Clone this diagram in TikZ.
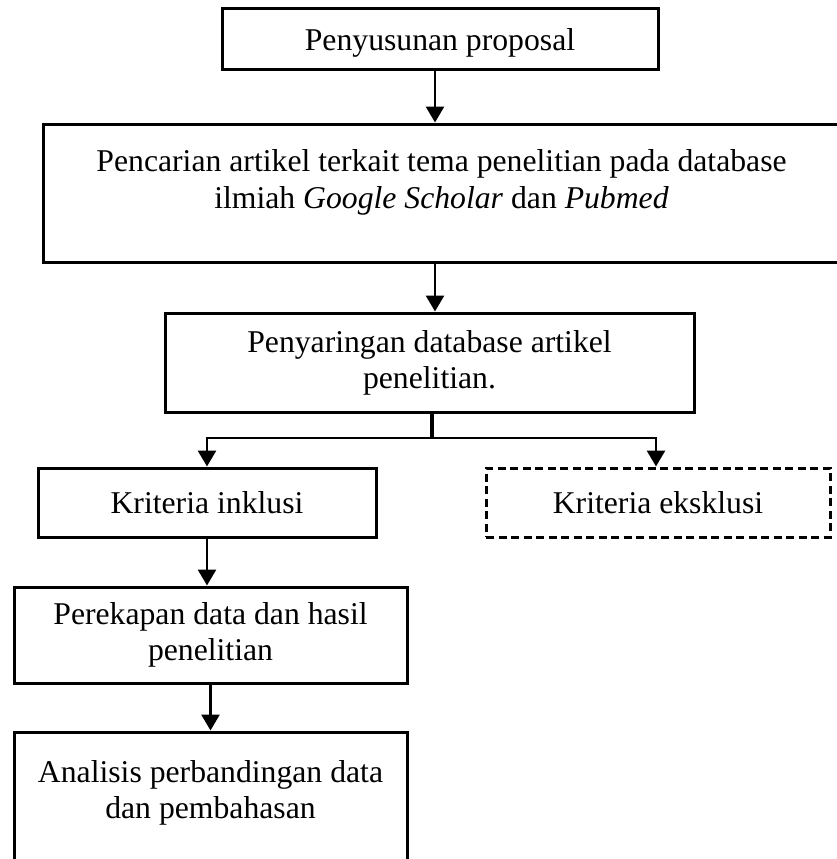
\documentclass[tikz,border=0pt]{standalone}
\usepackage{fontspec}
\setmainfont{Liberation Serif}
\usetikzlibrary{arrows.meta,positioning}
\tikzset{
  kotak/.style={draw, line width=3pt, rectangle, align=center, inner sep=0pt,
    font=\fontsize{31.7}{36}\selectfont},
  putus/.style={kotak, dash pattern=on 8pt off 4.5pt},
  panah/.style={line width=2.8pt, -{Triangle[length=16pt,width=18pt]}}
}
\begin{document}
\begin{tikzpicture}[x=1pt,y=-1pt]
  \useasboundingbox (0,0) rectangle (836,859);
  % kotak-kotak alur penelitian
  \node[kotak, minimum width=436pt, minimum height=61pt] (proposal) at (440,39.5) {\rule{0pt}{28pt}Penyusunan proposal};
  \node[kotak, minimum width=797pt, minimum height=138pt] (pencarian) at (441.5,193)
    {Pencarian artikel terkait tema penelitian pada database\\ ilmiah \textit{Google Scholar} dan \textit{Pubmed}\\[-8pt] ~};
  \node[kotak, minimum width=529pt, minimum height=99pt] (penyaringan) at (429.5,362.5)
    {Penyaringan database artikel\\ penelitian.};
  \node[kotak, minimum width=338pt, minimum height=69pt] (inklusi) at (207,502.5) {Kriteria inklusi};
  \node[putus, minimum width=344pt, minimum height=69pt] (eksklusi) at (658,502.5) {Kriteria eksklusi};
  \node[kotak, minimum width=393pt, minimum height=96pt] (perekapan) at (210.5,635)
    {Perekapan data dan hasil\\ penelitian};
  \node[kotak, minimum width=393pt, minimum height=150pt] (analisis) at (210.5,807)
    {Analisis perbandingan data\\ dan pembahasan\\ ~};
  % panah
  \coordinate (a1) at (435,0);
  \draw[panah] (proposal.south -| a1) -- (pencarian.north -| a1);
  \draw[panah] (pencarian.south -| a1) -- (penyaringan.north -| a1);
  \coordinate (cabang) at (432,438);
  \draw[line width=3.8pt] (penyaringan.south -| cabang) -- (cabang);
  \draw[panah] (cabang) -| (inklusi.north);
  \draw[panah] (cabang) -| ([xshift=-2pt]eksklusi.north);
  \draw[panah] (inklusi.south) -- (inklusi.south |- perekapan.north);
  \draw[panah] (perekapan.south) -- (analisis.north);
\end{tikzpicture}
\end{document}
